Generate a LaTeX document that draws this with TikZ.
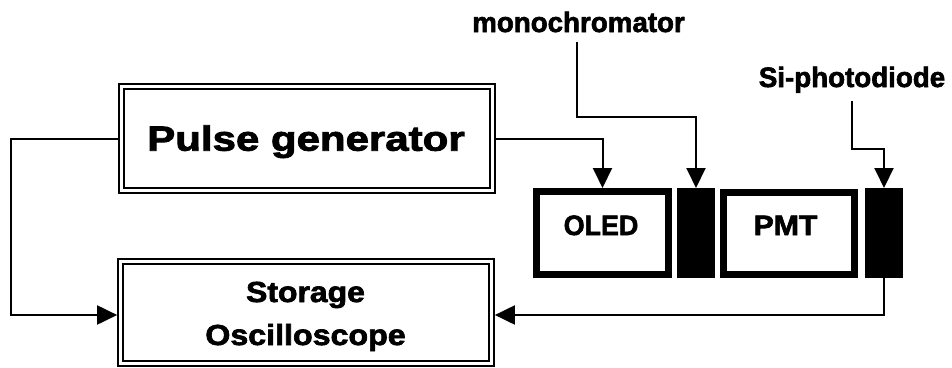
\documentclass[tikz,border=0pt]{standalone}
\usepackage{fontspec}
\setmainfont{Liberation Sans}[BoldFeatures={FakeBold=2.2}]
\usetikzlibrary{arrows.meta}
\tikzset{
  bigbox/.style={draw, double, line width=2.2pt, double distance=2.3pt,
    minimum width=371pt, inner sep=0pt, outer sep=3.35pt},
  thickbox/.style={draw, line width=7pt, inner sep=0pt, outer sep=3.5pt},
  blackblock/.style={fill=black, draw=none, minimum width=38pt, minimum height=90pt, inner sep=0pt, outer sep=0pt},
  lbl/.style={inner sep=0pt, anchor=base, font=\bfseries},
  conn/.style={line width=2pt},
  arr/.style={conn, -{Triangle[length=20pt,width=19pt]}},
}
\newcommand{\fsz}[1]{\fontsize{#1}{#1}\selectfont}
\begin{document}
\begin{tikzpicture}[x=1pt,y=-1pt]
\useasboundingbox (0,0) rectangle (952,367);
% boxes
\node[bigbox, minimum height=104pt] (pg) at (307,138.5) {};
\node[bigbox, minimum height=102pt] (so) at (306,312.5) {};
\node[thickbox, minimum width=132pt, minimum height=83pt] (oled) at (602.5,233) {};
\node[blackblock] (b1) at (696,233) {};
\node[thickbox, minimum width=131pt, minimum height=82pt] (pmt) at (789,233.5) {};
\node[blackblock] (b2) at (884,233) {};
% texts
\node[lbl] (pgt) at (306,150.7) {\fsz{35}\scalebox{1.2}[1]{Pulse generator}};
\node[lbl] (sot1) at (305.5,302) {\fsz{29}\scalebox{1.1}[1]{Storage}};
\node[lbl] (sot2) at (305.5,345) {\fsz{29}\scalebox{1.11}[1]{Oscilloscope}};
\node[lbl] (oledt) at (601,235) {\fsz{28}\scalebox{0.96}[1]{OLED}};
\node[lbl] (pmtt) at (785.5,235) {\fsz{28}\scalebox{1.08}[1]{PMT}};
\node[lbl] (mono) at (578.5,32) {\fsz{28}\scalebox{0.99}[1]{monochromator}};
\node[lbl] (sid) at (852,87) {\fsz{28}\scalebox{0.99}[1]{Si-photodiode}};
% connectors
\draw[arr] (pg.west) -- ++(-107,0) |- ([yshift=-2.5pt]so.west);
\draw[arr] (pg.east) -| (oled.north);
\draw[arr] ([xshift=-1.5pt,yshift=-10pt]mono.south) -- ++(0,75) -| (b1.north);
\draw[arr] ([yshift=-8pt]sid.south) -- ++(0,48) -| (b2.north);
\draw[arr] (b2.south) |- ([yshift=-2.5pt]so.east);
\end{tikzpicture}
\end{document}
